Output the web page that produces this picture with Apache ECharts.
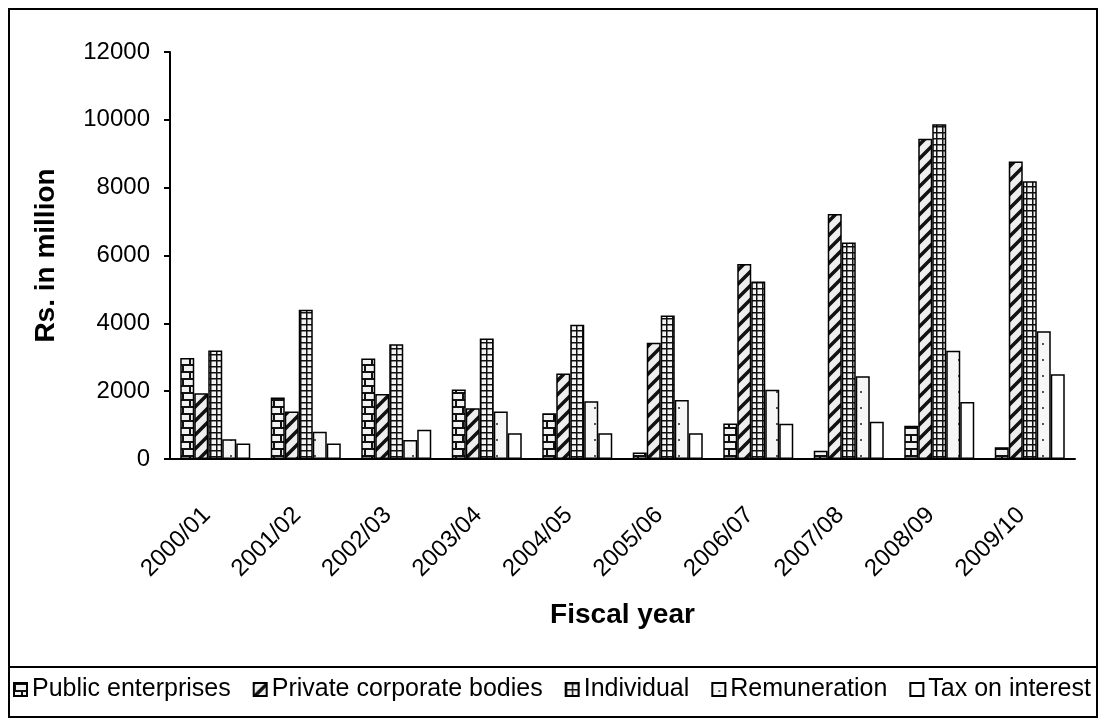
<!DOCTYPE html>
<html>
<head>
<meta charset="utf-8">
<script src="https://cdn.jsdelivr.net/npm/echarts@6/dist/echarts.min.js"></script>
<style>
  html, body { margin: 0; padding: 0; background: #fff; }
  #main { width: 1102px; height: 719px; }
</style>
</head>
<body>
<div id="main"></div>
<script>
const years = ['2000/01', '2001/02', '2002/03', '2003/04', '2004/05', '2005/06', '2006/07', '2007/08', '2008/09', '2009/10']
const publicEnterprises = [2980, 1810, 2960, 2050, 1350, 190, 1050, 240, 980, 350]
const privateCorporate = [1940, 1400, 1920, 1500, 2520, 3430, 5750, 7220, 9440, 8770]
const individual = [3200, 4400, 3380, 3550, 3960, 4230, 5230, 6380, 9870, 8190]
const remuneration = [580, 800, 560, 1400, 1700, 1740, 2040, 2440, 3190, 3770]
const taxOnInterest = [460, 460, 860, 760, 760, 760, 1040, 1100, 1680, 2500]
const yTicks = [0, 2000, 4000, 6000, 8000, 10000, 12000]

const font = 'Liberation Sans, Arial, sans-serif'

// little canvas tiles for the black & white fills
const tile = (w, h, draw) => {
	let c = document.createElement('canvas')
	c.width = w
	c.height = h
	let ctx = c.getContext('2d')
	draw(ctx, w, h)
	return { image: c, repeat: 'repeat' }
}

const brick = tile(14, 14, (ctx, w, h) => {
	ctx.fillStyle = '#f2f2f2'
	ctx.fillRect(0, 0, w, h)
	ctx.fillStyle = '#111'
	ctx.fillRect(0, 0, w, 2)
	ctx.fillRect(0, 7, w, 2)
	ctx.fillRect(0, 0, 2, 7)
	ctx.fillRect(7, 7, 2, 7)
})

const hatch = tile(14, 14, (ctx, w, h) => {
	ctx.fillStyle = '#eeeeee'
	ctx.fillRect(0, 0, w, h)
	ctx.strokeStyle = '#111'
	ctx.lineWidth = 3.5
	ctx.beginPath()
	ctx.moveTo(-3, h + 3)
	ctx.lineTo(w + 3, -3)
	ctx.moveTo(-3, 3)
	ctx.lineTo(3, -3)
	ctx.moveTo(w - 3, h + 3)
	ctx.lineTo(w + 3, h - 3)
	ctx.stroke()
})

const grid = tile(6, 6, (ctx, w, h) => {
	ctx.fillStyle = '#f4f4f4'
	ctx.fillRect(0, 0, w, h)
	ctx.fillStyle = '#111'
	ctx.fillRect(0, 0, w, 1.5)
	ctx.fillRect(0, 0, 1.5, h)
})

const dots = tile(14, 16, (ctx, w, h) => {
	ctx.fillStyle = '#f6f6f6'
	ctx.fillRect(0, 0, w, h)
	ctx.fillStyle = '#555'
	ctx.fillRect(6, 7, 2, 2)
})

const bar = (name, data, fill) => ({
	name,
	type: 'bar',
	data,
	barWidth: 14,
	barGap: '0%',
	itemStyle: {
		color: fill,
		borderColor: '#000',
		borderWidth: 1.5
	}
})

const chart = echarts.init(document.getElementById('main'))
chart.setOption({
	animation: false,
	backgroundColor: '#fff',
	grid: {
		left: 170,
		right: 27,
		top: 52,
		bottom: 260
	},
	legend: {
		left: 13,
		top: 677,
		padding: 0,
		icon: 'rect',
		itemWidth: 13,
		itemHeight: 13,
		itemGap: 22,
		selectedMode: false,
		textStyle: {
			fontFamily: font,
			fontSize: 25,
			color: '#000'
		}
	},
	xAxis: {
		type: 'category',
		data: years,
		name: 'Fiscal year',
		nameLocation: 'middle',
		nameGap: 142,
		nameTextStyle: {
			fontFamily: font,
			fontSize: 28,
			fontWeight: 'bold',
			color: '#000'
		},
		axisLine: {
			lineStyle: { color: '#000', width: 2 }
		},
		axisTick: {
			length: 10,
			lineStyle: { color: '#000', width: 2 }
		},
		axisLabel: {
			rotate: 45,
			margin: 44,
			padding: [0, 12, 0, 0],
			fontFamily: font,
			fontSize: 24,
			color: '#000'
		}
	},
	yAxis: {
		type: 'value',
		min: yTicks[0],
		max: yTicks[yTicks.length - 1],
		interval: 2000,
		name: 'Rs. in million',
		nameLocation: 'middle',
		nameGap: 110,
		nameTextStyle: {
			fontFamily: font,
			fontSize: 28,
			fontWeight: 'bold',
			color: '#000'
		},
		splitLine: { show: false },
		axisLine: {
			show: true,
			lineStyle: { color: '#000', width: 2 }
		},
		axisTick: {
			show: true,
			length: 6,
			lineStyle: { color: '#000', width: 2 }
		},
		axisLabel: {
			margin: 20,
			fontFamily: font,
			fontSize: 24,
			color: '#000',
			formatter: v => String(v)
		}
	},
	graphic: [
		{
			type: 'rect',
			shape: { x: 9, y: 9, width: 1088, height: 708 },
			style: { fill: 'none', stroke: '#000', lineWidth: 2 },
			silent: true
		},
		{
			type: 'line',
			shape: { x1: 9, y1: 667, x2: 1097, y2: 667 },
			style: { stroke: '#000', lineWidth: 2 },
			silent: true
		}
	],
	series: [
		bar('Public enterprises', publicEnterprises, brick),
		bar('Private corporate bodies', privateCorporate, hatch),
		bar('Individual', individual, grid),
		bar('Remuneration', remuneration, dots),
		bar('Tax on interest', taxOnInterest, '#fff')
	]
})
</script>
</body>
</html>
